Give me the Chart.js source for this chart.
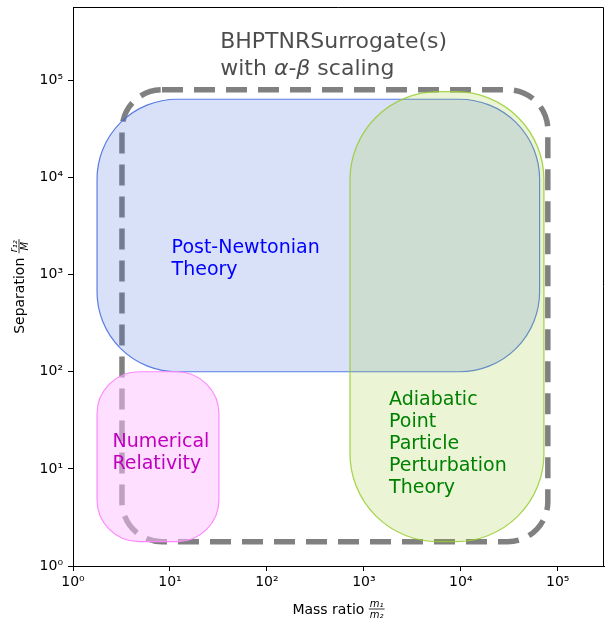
<!DOCTYPE html>
<html>
<head>
<meta charset="utf-8">
<script src="https://cdn.jsdelivr.net/npm/chart.js@4.4.1/dist/chart.umd.min.js"></script>
<style>
  html, body { margin: 0; padding: 0; background: #fff; }
  #wrap { width: 605px; height: 618px; position: relative; }
</style>
</head>
<body>
<div id="wrap"><canvas id="chart"></canvas></div>
<script>
// ── data ─────────────────────────────────────────────────
// axis ticks (decades on both log axes)
const xTicks = [1, 10, 100, 1e3, 1e4, 1e5];
const xTickLabels = ['10⁰', '10¹', '10²', '10³', '10⁴', '10⁵'];
const yTicks = [1, 10, 100, 1e3, 1e4, 1e5];
const yTickLabels = ['10⁰', '10¹', '10²', '10³', '10⁴', '10⁵'];

// regions of validity, in data coords (mass ratio, separation)
const regionNames = ['BHPTNRSurrogate', 'Post-Newtonian', 'Numerical Relativity', 'APPT'];
const regionXMin = [3.2, 1.77, 1.77, 720];
const regionXMax = [7.9e4, 6.5e4, 32, 7.2e4];
const regionYMin = [1.78, 100, 1.78, 1.78];
const regionYMax = [8.0e4, 6.4e4, 100, 7.65e4];

// text annotations: lines + anchor (left, baseline of last line) in data coords
const noteLines = [
  ['Post-Newtonian', 'Theory'],
  ['Numerical', 'Relativity'],
  ['Adiabatic', 'Point', 'Particle', 'Perturbation', 'Theory'],
];
const noteX = [10.4, 2.55, 1.82e3];
const noteY = [1.0e3, 10, 5.6];

// ── styles ───────────────────────────────────────────────
const FONT = '"DejaVu Sans", sans-serif';
const REGION_STYLE = [
  { stroke: '#808080', width: 5.5, dash: [21, 11], radius: 40, fill: null },
  { stroke: 'rgba(65,105,225,0.85)', width: 1.2, radius: 80, fill: 'rgba(65,105,225,0.2)' },
  { stroke: '#ff88ff', width: 1.2, radius: 42, fill: 'rgba(255,192,255,0.5)' },
  { stroke: 'rgba(154,205,50,0.85)', width: 1.3, radius: 88, fill: 'rgba(154,205,50,0.2)' },
];
const NOTE_COLORS = ['#0000ff', '#bf00bf', '#008000'];

function roundedRect(ctx, x, y, w, h, r) {
  r = Math.min(r, w / 2, h / 2);
  ctx.beginPath();
  ctx.moveTo(x + r, y);
  ctx.lineTo(x + w - r, y);
  ctx.arcTo(x + w, y, x + w, y + r, r);
  ctx.lineTo(x + w, y + h - r);
  ctx.arcTo(x + w, y + h, x + w - r, y + h, r);
  ctx.lineTo(x + r, y + h);
  ctx.arcTo(x, y + h, x, y + h - r, r);
  ctx.lineTo(x, y + r);
  ctx.arcTo(x, y, x + r, y, r);
  ctx.closePath();
}

// "label  num/den" with a stacked fraction, drawn horizontally around cx
function drawFracLabel(ctx, text, num, den, cx, base) {
  ctx.font = '14px ' + FONT;
  const w1 = ctx.measureText(text + ' ').width;
  ctx.font = 'italic 10px ' + FONT;
  const wf = Math.max(ctx.measureText(num).width, ctx.measureText(den).width) + 2;
  const x0 = cx - (w1 + wf) / 2;
  ctx.fillStyle = '#000';
  ctx.textAlign = 'left';
  ctx.textBaseline = 'alphabetic';
  ctx.font = '14px ' + FONT;
  ctx.fillText(text + ' ', x0, base);
  const fx = x0 + w1;
  const ly = base - 5;
  ctx.fillRect(fx, ly - 0.4, wf, 0.8);
  ctx.font = 'italic 10px ' + FONT;
  ctx.textAlign = 'center';
  ctx.fillText(num, fx + wf / 2, ly - 2);
  ctx.fillText(den, fx + wf / 2, ly + 9);
}

const regionPlugin = {
  id: 'regions',
  beforeDatasetsDraw(chart) {
    const { ctx, chartArea: a, scales: { x, y } } = chart;
    ctx.save();
    ctx.beginPath();
    ctx.rect(a.left, a.top, a.right - a.left, a.bottom - a.top);
    ctx.clip();
    regionNames.forEach((name, i) => {
      const st = REGION_STYLE[i];
      const l = x.getPixelForValue(regionXMin[i]);
      const r = x.getPixelForValue(regionXMax[i]);
      const t = y.getPixelForValue(regionYMax[i]);
      const b = y.getPixelForValue(regionYMin[i]);
      roundedRect(ctx, l, t, r - l, b - t, st.radius);
      if (st.fill) { ctx.fillStyle = st.fill; ctx.fill(); }
      ctx.lineWidth = st.width;
      ctx.strokeStyle = st.stroke;
      ctx.setLineDash(st.dash || []);
      ctx.lineCap = 'butt';
      ctx.stroke();
    });
    ctx.restore();
  },
  afterDatasetsDraw(chart) {
    const { ctx, scales: { x, y } } = chart;
    ctx.save();
    ctx.textAlign = 'left';
    ctx.textBaseline = 'alphabetic';
    // region notes
    ctx.font = '19px ' + FONT;
    noteLines.forEach((lines, i) => {
      const px = x.getPixelForValue(noteX[i]);
      const py = y.getPixelForValue(noteY[i]);
      ctx.fillStyle = NOTE_COLORS[i];
      lines.forEach((s, k) => ctx.fillText(s, px, py - (lines.length - 1 - k) * 22));
    });
    // title block
    const tx = x.getPixelForValue(33);
    const ty = y.getPixelForValue(1.14e5);
    ctx.fillStyle = 'rgba(0,0,0,0.7)';
    ctx.font = '22px ' + FONT;
    ctx.fillText('BHPTNRSurrogate(s)', tx, ty - 27);
    const parts = [['with ', ''], ['α', 'italic '], ['-', ''], ['β', 'italic '], [' scaling', '']];
    let cx = tx;
    parts.forEach(([s, st]) => {
      ctx.font = st + '22px ' + FONT;
      ctx.fillText(s, cx, ty);
      cx += ctx.measureText(s).width;
    });
    ctx.restore();
  },
  afterDraw(chart) {
    const { ctx, chartArea: a } = chart;
    ctx.save();
    // top and right spines
    ctx.strokeStyle = '#000';
    ctx.lineWidth = 1;
    ctx.beginPath();
    ctx.moveTo(a.left, a.top + 0.5);
    ctx.lineTo(a.right - 0.5, a.top + 0.5);
    ctx.lineTo(a.right - 0.5, a.bottom);
    ctx.stroke();
    // axis titles
    drawFracLabel(ctx, 'Mass ratio', 'm₁', 'm₂', (a.left + a.right) / 2, 614);
    ctx.translate(24, (a.top + a.bottom) / 2);
    ctx.rotate(-Math.PI / 2);
    drawFracLabel(ctx, 'Separation', 'r₁₂', 'M', 0, 0);
    ctx.restore();
  },
};

const axisCommon = {
  type: 'logarithmic',
  border: { display: true, color: '#000', width: 1 },
  grid: { drawOnChartArea: false, drawTicks: true, tickLength: 5, tickColor: '#000', tickWidth: 1 },
};

new Chart(document.getElementById('chart'), {
  type: 'scatter',
  data: { datasets: [] },
  options: {
    responsive: true,
    maintainAspectRatio: false,
    animation: false,
    events: [],
    layout: { padding: { top: 7, right: 1, left: 0, bottom: 0 } },
    plugins: { legend: { display: false }, tooltip: { enabled: false } },
    scales: {
      x: {
        ...axisCommon,
        min: 1, max: 3.0e5,
        afterBuildTicks: s => { s.ticks = xTicks.map(v => ({ value: v })); },
        afterFit: s => { s.height = 52; s.paddingLeft = 0; s.paddingRight = 0; },
        ticks: {
          autoSkip: false, maxRotation: 0, padding: 3, color: '#000',
          font: { family: FONT, size: 14 },
          callback: (v, i) => xTickLabels[i],
        },
      },
      y: {
        ...axisCommon,
        min: 1, max: 5.7e5,
        afterBuildTicks: s => { s.ticks = yTicks.map(v => ({ value: v })); },
        afterFit: s => { s.width = 73; s.paddingTop = 0; s.paddingBottom = 0; },
        ticks: {
          autoSkip: false, padding: 5, color: '#000',
          font: { family: FONT, size: 14 },
          callback: (v, i) => yTickLabels[i],
        },
      },
    },
  },
  plugins: [regionPlugin],
});
</script>
</body>
</html>
